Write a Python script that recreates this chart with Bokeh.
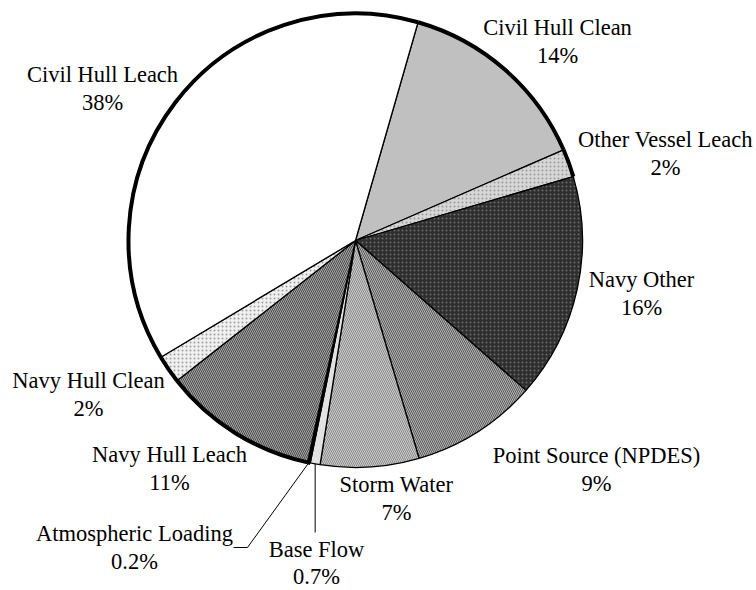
import math

from bokeh.core.properties import value
from bokeh.embed import file_html
from bokeh.models import ColumnDataSource, Range1d
from bokeh.plotting import figure
from bokeh.resources import INLINE

# Slices in clockwise order, starting just right of twelve o'clock
categories = [
    "Civil Hull Clean", "Other Vessel Leach", "Navy Other", "Point Source (NPDES)",
    "Storm Water", "Base Flow", "Atmospheric Loading", "Navy Hull Leach",
    "Navy Hull Clean", "Civil Hull Leach",
]
shares = [14, 2, 16, 9, 7, 0.7, 0.2, 11, 2, 38]

# Slice appearance
fills = ["#c0c0c0", "#d6d6d6", "#2e2e2e", "#b4b4b4", "#cdcdcd",
         "#e2e2e2", "#000000", "#a6a6a6", "#f0f0f0", "#ffffff"]
hatch = [" ", ".", ".", "\\", "\\", " ", " ", "\\", ".", " "]
hatch_col = ["#000000", "#9a9a9a", "#6a6a6a", "#5a5a5a", "#8a8a8a",
             "#000000", "#000000", "#4a4a4a", "#a0a0a0", "#000000"]
heavy_rim = [True, True, False, False, False, False, True, True, True, True]

# Label anchors in page pixels: centre x, vertical middle of the name line
label_x = [557, 665, 641, 596, 396, 316, 134, 169, 88, 102]
label_mid = [27, 139, 279, 455, 484, 549, 533, 454, 380, 74]
LINE_GAP = 28

W, H = 756, 590
CX, CY, R = 355, 240, 227
FIRST_ANGLE = 16.0  # degrees clockwise from twelve o'clock

total = sum(shares)
starts, ends, mids = [], [], []
acc = FIRST_ANGLE
for s in shares:
    span = 360.0 * s / total
    a0, a1 = acc, acc + span
    # convert clockwise-from-top to Bokeh's counter-clockwise-from-east
    starts.append(math.radians(90 - a1))
    ends.append(math.radians(90 - a0))
    mids.append(math.radians(90 - (a0 + a1) / 2))
    acc = a1

cy = H - CY
src = ColumnDataSource(dict(
    start=starts, end=ends, fill=fills, hatch=hatch, hcol=hatch_col,
))

p = figure(width=W, height=H, output_backend="svg", toolbar_location=None,
           x_range=Range1d(0, W), y_range=Range1d(0, H),
           min_border=0, outline_line_color=None)
p.axis.visible = False
p.grid.visible = False
p.background_fill_color = "white"
p.border_fill_color = "white"

p.wedge(x=CX, y=cy, radius=R, start_angle="start", end_angle="end", source=src,
        fill_color="fill", hatch_pattern="hatch", hatch_color="hcol",
        hatch_scale=4, hatch_weight=1, line_color="black", line_width=1.3)

# heavier outer rim on some slices
for i, heavy in enumerate(heavy_rim):
    if heavy:
        p.arc(x=CX, y=cy, radius=R, start_angle=starts[i], end_angle=ends[i],
              line_color="black", line_width=4)

# leader lines for the two thinnest slices
idx_base = categories.index("Base Flow")
idx_atm = categories.index("Atmospheric Loading")
bx = CX + R * math.cos(mids[idx_base])
by = cy + R * math.sin(mids[idx_base])
p.line([bx, bx], [by, H - 532], line_color="black", line_width=1)
ax = CX + R * math.cos(mids[idx_atm])
ay = cy + R * math.sin(mids[idx_atm])
p.line([ax, 247, 233], [ay, H - 547, H - 547], line_color="black", line_width=1)

pct = [f"{s:g}%" for s in shares]
gaps = [LINE_GAP if c != "Base Flow" else LINE_GAP - 1 for c in categories]
lab = ColumnDataSource(dict(
    x=label_x,
    y1=[H - m for m in label_mid],
    y2=[H - m - g for m, g in zip(label_mid, gaps)],
    name=categories, pct=pct,
))
for ycol, tcol in (("y1", "name"), ("y2", "pct")):
    p.text(x="x", y=ycol, text=tcol, source=lab,
           text_font=value("Liberation Serif"), text_font_size="22.5px",
           text_color="black", text_align="center", text_baseline="middle")

open("out.html", "w").write(file_html(p, INLINE))
